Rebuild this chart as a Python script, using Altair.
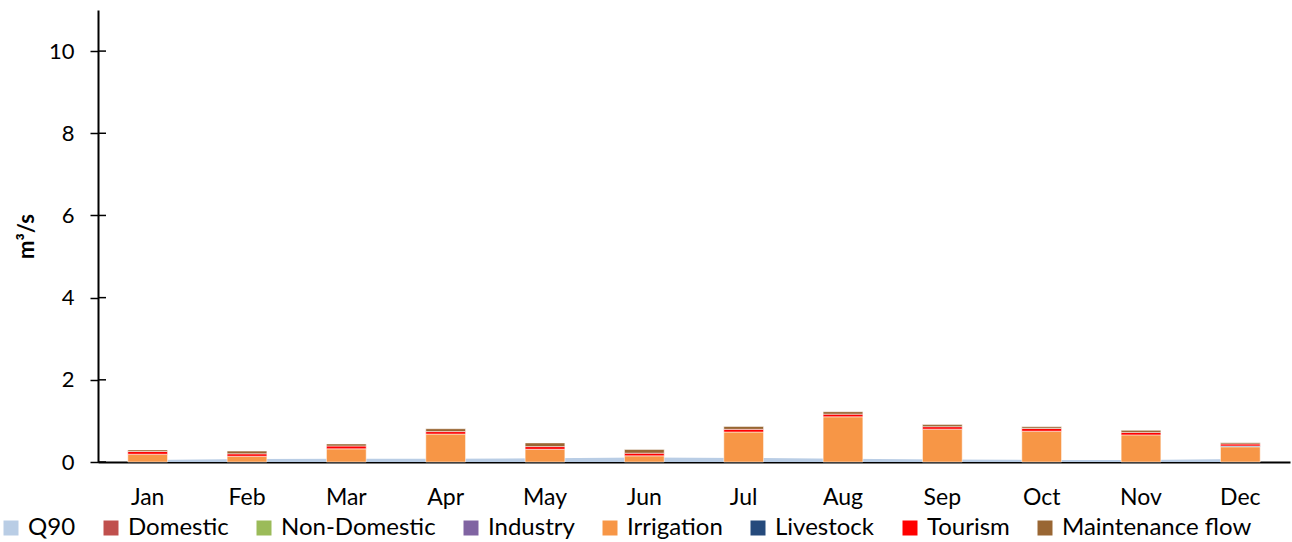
import altair as alt
import pandas as pd

# Monthly water demand by use (m3/s), stacked, with Q90 flow as a background area
months = ["Jan", "Feb", "Mar", "Apr", "May", "Jun", "Jul", "Aug", "Sep", "Oct", "Nov", "Dec"]

q90 = [0.05, 0.07, 0.08, 0.08, 0.09, 0.11, 0.10, 0.08, 0.06, 0.05, 0.05, 0.07]

domestic = [0, 0, 0, 0, 0, 0, 0, 0, 0, 0, 0, 0]
non_domestic = [0, 0, 0, 0, 0, 0, 0, 0, 0, 0, 0, 0]
industry = [0, 0, 0, 0, 0, 0, 0, 0, 0, 0, 0, 0]
irrigation = [0.19, 0.14, 0.32, 0.68, 0.31, 0.15, 0.73, 1.10, 0.80, 0.75, 0.66, 0.37]
livestock = [0, 0, 0, 0, 0, 0, 0, 0, 0, 0, 0, 0.02]
tourism = [0.065, 0.06, 0.07, 0.06, 0.065, 0.065, 0.065, 0.065, 0.06, 0.065, 0.06, 0.05]
maintenance = [0.04, 0.065, 0.05, 0.07, 0.09, 0.09, 0.07, 0.06, 0.05, 0.04, 0.05, 0.03]

series_names = ["Q90", "Domestic", "Non-Domestic", "Industry", "Irrigation",
                "Livestock", "Tourism", "Maintenance flow"]
series_colors = ["#B9CDE5", "#C0504D", "#9BBB59", "#8064A2", "#F79646",
                 "#254A7C", "#FF0000", "#996633"]

y_ticks = [0, 2, 4, 6, 8, 10]

FONT = "Lato"

stack_series = [
    ("Domestic", domestic),
    ("Non-Domestic", non_domestic),
    ("Industry", industry),
    ("Irrigation", irrigation),
    ("Livestock", livestock),
    ("Tourism", tourism),
    ("Maintenance flow", maintenance),
]

bar_rows = []
for k, (name, vals) in enumerate(stack_series):
    for m, v in zip(months, vals):
        if v > 0:
            bar_rows.append({"month": m, "series": name, "value": v, "k": k})
bars_df = pd.DataFrame(bar_rows)

q90_df = pd.DataFrame({"month": months, "value": q90, "series": "Q90"})
ticks_df = pd.DataFrame({"v": y_ticks})

x_scale = alt.Scale(domain=months, paddingInner=0.6, paddingOuter=0.3)
y_scale = alt.Scale(domain=[0, 11], nice=False)
color_scale = alt.Scale(domain=series_names, range=series_colors)

x_enc = alt.X("month:N", scale=x_scale, sort=months,
              axis=alt.Axis(title=None, ticks=False, labelAngle=0, labelPadding=24,
                            labelFontSize=23, labelFont=FONT, labelColor="#000000",
                            domainColor="#000000", domainWidth=2))

area = alt.Chart(q90_df).mark_area(interpolate="linear").encode(
    x=x_enc,
    y=alt.Y("value:Q", scale=y_scale),
    color=alt.Color("series:N", scale=color_scale),
)

bars = alt.Chart(bars_df).mark_bar(stroke="#FFFFFF", strokeWidth=1, strokeOpacity=0.5).encode(
    x=alt.X("month:N", scale=x_scale, sort=months),
    y=alt.Y("sum(value):Q", scale=y_scale,
            axis=alt.Axis(title="m³/s", values=y_ticks, grid=False, tickSize=8,
                          tickColor="#000000", tickWidth=1.5, labelPadding=16,
                          labelFontSize=22, labelFont=FONT, labelColor="#000000",
                          domainColor="#000000", domainWidth=2,
                          titleFontSize=22, titleFont=FONT, titleFontWeight="bold",
                          titleColor="#000000", titlePadding=10)),
    color=alt.Color("series:N", scale=color_scale,
                    legend=alt.Legend(title=None, orient="none", direction="horizontal",
                                      columns=8, legendX=-99, legendY=506,
                                      symbolType="square", symbolSize=225,
                                      symbolStrokeWidth=0, labelFontSize=24,
                                      labelFont=FONT, labelColor="#000000",
                                      labelLimit=0, labelOffset=5, columnPadding=23)),
    order=alt.Order("k:Q", sort="ascending"),
)

# inner half of the crossing tick marks on the value axis
inner_ticks = alt.Chart(ticks_df).mark_rule(color="#000000", strokeWidth=1.5).encode(
    x=alt.value(0), x2=alt.value(8),
    y=alt.Y("v:Q", scale=y_scale),
)

chart = alt.layer(area, bars, inner_ticks).properties(
    width=1192, height=452,
    padding={"left": 98, "top": 10, "right": 2, "bottom": 80},
    autosize=alt.AutoSizeParams(type="none"),
    background="#FFFFFF",
).configure_view(stroke=None)

chart.save("out.html", embed_options={"renderer": "svg", "actions": False})
